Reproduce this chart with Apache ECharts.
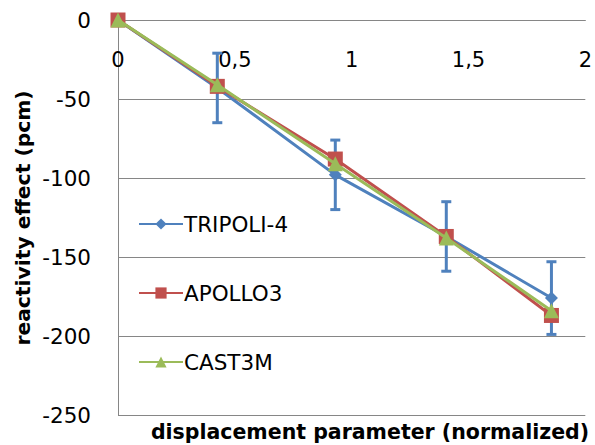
<!DOCTYPE html>
<html><head><meta charset="utf-8">
<script src="https://cdn.jsdelivr.net/npm/echarts@6/dist/echarts.min.js"></script>
<style>html,body{margin:0;padding:0;background:#fff}#c{width:595px;height:445px}</style>
</head><body><div id="c"></div>
<script>
const xValues = [0, 0.425, 0.93, 1.405, 1.855];
const tripoli = [0, -43, -98, -137, -176];
const tripoliErr = [0, 22, 22, 22, 23];
const apollo = [0, -42, -88, -137, -187];
const cast3m = [0, -41, -91, -138, -184];
const seriesNames = ['TRIPOLI-4', 'APOLLO3', 'CAST3M'];
const xTitle = 'displacement parameter (normalized)';
const yTitle = 'reactivity effect (pcm)';

const FONT = '"DejaVu Sans"';
const pair = (ys) => xValues.map((x, i) => [x, ys[i]]);
const errData = xValues.map((x, i) => [x, tripoli[i], tripoliErr[i]]).filter(d => d[2] > 0);

const chart = echarts.init(document.getElementById('c'), null, {renderer: 'svg'});
chart.setOption({
  animation: false,
  backgroundColor: '#fff',
  textStyle: {fontFamily: FONT},
  grid: {left: 118, right: 7, top: 20, bottom: 30, containLabel: false},
  xAxis: {
    type: 'value', min: 0, max: 2, interval: 0.5, position: 'top',
    axisLine: {show: true, onZero: false, lineStyle: {color: '#868686', width: 1}},
    axisTick: {show: false},
    splitLine: {show: false},
    axisLabel: {inside: true, margin: 29, fontSize: 21, color: '#000', fontFamily: FONT,
      formatter: v => String(v).replace('.', ',')}
  },
  yAxis: {
    type: 'value', min: -250, max: 0, interval: 50,
    axisLine: {show: true, lineStyle: {color: '#868686', width: 1}},
    axisTick: {show: false},
    splitLine: {show: true, lineStyle: {color: '#868686', width: 1}},
    axisLabel: {margin: 27, fontSize: 21.5, color: '#000', fontFamily: FONT}
  },
  legend: {
    orient: 'vertical', left: 133, top: 208, itemGap: 47,
    itemWidth: 44, itemHeight: 14,
    data: seriesNames,
    textStyle: {fontSize: 21.5, color: '#000', fontFamily: FONT, padding: [0, 0, 0, -4]}
  },
  graphic: [
    {type: 'text', x: 370, y: 432, style: {text: xTitle, fontSize: 20.5, fontWeight: 'bold', fontFamily: FONT, fill: '#000', align: 'center', verticalAlign: 'middle'}},
    {type: 'text', x: 23, y: 218, rotation: Math.PI / 2, style: {text: yTitle, fontSize: 20.3, fontWeight: 'bold', fontFamily: FONT, fill: '#000', align: 'center', verticalAlign: 'middle'}}
  ],
  series: [
    {
      type: 'custom', name: 'err', z: 1, silent: true,
      renderItem: (params, api) => {
        const x = api.value(0), y = api.value(1), e = api.value(2);
        const top = api.coord([x, y + e]);
        const bot = api.coord([x, y - e]);
        const w = 5;
        const st = {stroke: '#4F81BD', lineWidth: 3};
        return {type: 'group', children: [
          {type: 'line', shape: {x1: top[0], y1: top[1], x2: bot[0], y2: bot[1]}, style: st},
          {type: 'line', shape: {x1: top[0] - w, y1: top[1], x2: top[0] + w, y2: top[1]}, style: st},
          {type: 'line', shape: {x1: bot[0] - w, y1: bot[1], x2: bot[0] + w, y2: bot[1]}, style: st}
        ]};
      },
      data: errData
    },
    {name: seriesNames[0], type: 'line', z: 2, data: pair(tripoli), symbol: 'diamond', symbolSize: 13,
      lineStyle: {color: '#4F81BD', width: 3}, itemStyle: {color: '#4F81BD'}},
    {name: seriesNames[1], type: 'line', z: 3, data: pair(apollo), symbol: 'rect', symbolSize: 15,
      lineStyle: {color: '#C0504D', width: 3}, itemStyle: {color: '#C0504D'}},
    {name: seriesNames[2], type: 'line', z: 4, data: pair(cast3m), symbol: 'triangle', symbolSize: 15,
      lineStyle: {color: '#9BBB59', width: 3}, itemStyle: {color: '#9BBB59'}}
  ]
});
</script></body></html>
